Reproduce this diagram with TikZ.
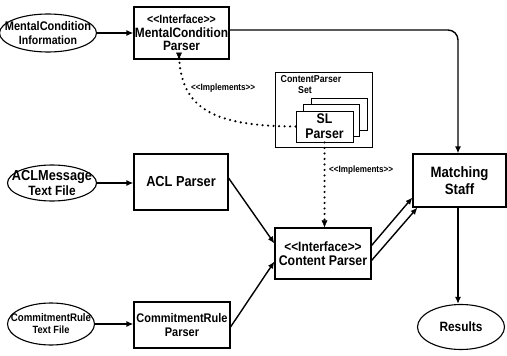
\documentclass[tikz,border=0pt]{standalone}
\usepackage{fontspec}
\setmainfont{Liberation Sans}[FakeStretch=0.88]
\usetikzlibrary{arrows.meta,shapes.geometric,calc}
\newcommand{\fsz}[1]{\fontsize{#1}{#1}\selectfont\bfseries}
\newcommand{\stereo}[1]{<{}<#1>{}>}
\begin{document}
\begin{tikzpicture}[x=1pt,y=-1pt,
  box/.style={draw,line width=1.1pt,inner sep=0pt,align=center},
  oval/.style={draw,ellipse,line width=1.1pt,inner sep=0pt},
  flow/.style={line width=1.4pt,-{Latex[length=7pt,width=6pt]}},
  dots/.style={line width=2.4pt,dash pattern=on 0pt off 5.5pt,line cap=round},
  txt/.style={inner sep=0pt,align=center}]
\useasboundingbox (0,0) rectangle (507,356);

% inputs (ellipses)
\node[oval,minimum width=97pt,minimum height=38pt] (mci) at (48,33) {};
\node[txt,font=\fsz{12.5}] at (mci) {MentalCondition\\[1pt]\fsz{12}Information};
\node[oval,minimum width=89pt,minimum height=36pt] (acl) at (52,183) {};
\node[txt,font=\fsz{14.5}] at (acl) {ACLMessage\\[0pt]\fsz{13.5}Text File};
\node[oval,minimum width=87pt,minimum height=42pt] (cri) at (51,324) {};
\node[txt,font=\fsz{11}] at (cri) {CommitmentRule\\[1pt]\fsz{10.5}Text File};

% parsers
\node[box,minimum width=95pt,minimum height=52pt] (mcp) at (181.5,33) {};
\node[txt] at (mcp) {\fsz{12}\stereo{Interface}\\[1.5pt]\fsz{13.5}MentalCondition\\[1.5pt]\fsz{13.5}Parser};
\node[box,minimum width=94pt,minimum height=56pt,font=\fsz{14.5}] (aclp) at (181,182) {ACL Parser};
\node[box,minimum width=96pt,minimum height=46pt] (crp) at (182,325) {};
\node[txt,font=\fsz{12.5}] at (crp) {CommitmentRule\\[2pt]Parser};

% content parser set with stacked SL parsers
\node[box,line width=0.8pt,minimum width=97pt,minimum height=75pt] (set) at (323.5,109.5) {};
\node[txt,font=\fsz{10}] (setlbl) at (311,79) {ContentParser};
\node[txt,font=\fsz{10}] (setlbl2) at (305,90) {Set};
\node[box,line width=0.9pt,fill=white,minimum width=56pt,minimum height=32pt] (slb) at (339,114.5) {};
\node[box,line width=0.9pt,fill=white,minimum width=56pt,minimum height=32pt] (slm) at (331,120.5) {};
\node[box,line width=0.9pt,fill=white,minimum width=57pt,minimum height=31pt] (slf) at (324.5,126.5) {};
\node[txt,font=\fsz{14}] at (slf) {SL\\[1pt]Parser};

\node[box,minimum width=96pt,minimum height=51pt] (cp) at (323,253.5) {};
\node[txt] at (cp) {\fsz{13.5}\stereo{Interface}\\[2pt]\fsz{14}Content Parser};

\node[box,minimum width=93pt,minimum height=53pt] (ms) at (459.5,180.5) {};
\node[txt,font=\fsz{15}] at (ms) {Matching\\[2pt]Staff};
\node[oval,minimum width=87pt,minimum height=45pt] (res) at (461,327) {};
\node[txt,font=\fsz{13.5}] at (res) {Results};

% stereotype labels
\node[txt,font=\fsz{9.2},anchor=west] (imp1) at (191,88) {\stereo{Implements}};
\node[txt,font=\fsz{9.2},anchor=west] (imp2) at (329,170) {\stereo{Implements}};

% solid flows
\draw[flow] (mci.east) -- (mcp.west |- mci.east);
\draw[flow] (acl.east) -- (aclp.west |- acl.east);
\draw[flow] (cri.east) -- (crp.west |- cri.east);
\draw[flow,rounded corners=10pt] ([yshift=3pt]mcp.east) -| ([xshift=-1.5pt]ms.north);
\draw[flow] ([yshift=4pt]aclp.east) -- ([yshift=10pt]cp.west);
\draw[flow] ([yshift=-2pt]crp.east) -- ([yshift=-8pt]cp.west);
\draw[flow] ([yshift=8pt]cp.east) -- ([yshift=-17pt]ms.west);
\draw[flow] ([yshift=-7pt]cp.east) -- ([xshift=5pt]ms.south west);
\draw[flow] ([xshift=-1.5pt]ms.south) -- ([xshift=-1.5pt]ms.south |- res.north);

% realisation links (dotted)
\draw[dots] (slf.south) -- ([yshift=5pt]slf.south |- cp.north);
\draw[-{Latex[length=7pt,width=6pt]}] ([yshift=6pt]slf.south |- cp.north) -- (slf.south |- cp.north);
\draw[dots] (slf.west) .. controls (215,126) and (180,110) .. ([xshift=-2.5pt,yshift=6pt]mcp.south);
\draw[-{Latex[length=7pt,width=6pt]}] ([xshift=-2.5pt,yshift=7pt]mcp.south) -- ([xshift=-2.5pt]mcp.south);
\end{tikzpicture}
\end{document}
